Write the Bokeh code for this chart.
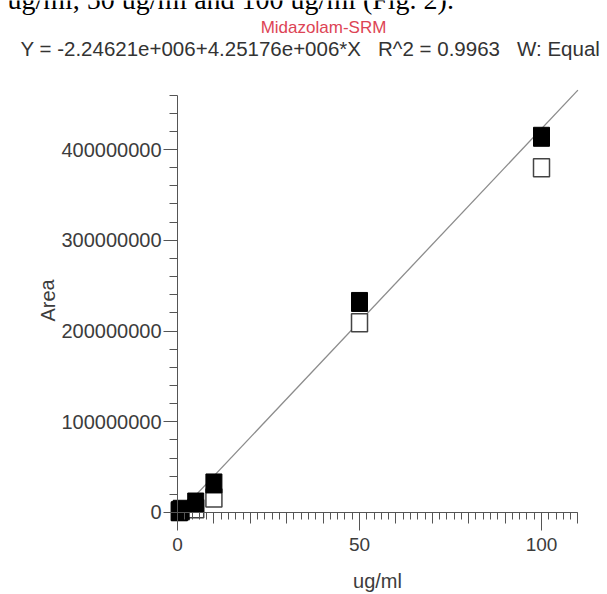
from bokeh.plotting import figure
from bokeh.models import Label, FixedTicker, Range1d, LinearAxis, BasicTickFormatter
from bokeh.embed import file_html
from bokeh.resources import INLINE

# ---- data ----
conc = [0.5, 1, 5, 10, 50, 100]                       # ug/ml
area_a = [1.5e6, 3.0e6, 11e6, 32e6, 232e6, 414e6]       # filled squares
area_b = [1.0e6, 2.0e6, 4e6, 16e6, 209e6, 380e6]        # open squares
intercept = -2.24621e6
slope = 4.25176e6
fit_x = [0, 110]
fit_y = [intercept + slope * v for v in fit_x]

y_major = [0, 100e6, 200e6, 300e6, 400e6]
y_minor = [i * 20e6 for i in range(0, 24)]
x_major = [0, 50, 100]
x_minor = [i * 2 for i in range(0, 56)]
x_medium = [i * 10 for i in range(0, 12)]

SANS = "Liberation Sans"
W, H = 607, 594
GAP = " \u00a0 "   # keeps the wide gaps of the equation line

p = figure(width=W, height=H, output_backend="svg", toolbar_location=None,
           x_range=Range1d(-48.63, 118.13), y_range=Range1d(-90.36e6, 564.19e6),
           x_axis_location=None, y_axis_location=None, min_border=0)
p.outline_line_color = None
p.grid.visible = False
p.background_fill_color = "white"
p.border_fill_color = "white"

axis_col = "#555555"
lab_col = "#3c3c3c"

xa = LinearAxis(fixed_location=0, bounds=(0, 110),
                ticker=FixedTicker(ticks=x_major, minor_ticks=x_minor),
                major_tick_out=18, major_tick_in=0, minor_tick_out=7, minor_tick_in=0,
                axis_line_color=axis_col, major_tick_line_color=axis_col,
                minor_tick_line_color=axis_col,
                major_label_text_font=SANS, major_label_text_font_size="19px",
                major_label_text_color=lab_col, major_label_standoff=8)
p.add_layout(xa, "below")

xmed = LinearAxis(fixed_location=0, bounds=(0, 110),
                  ticker=FixedTicker(ticks=[], minor_ticks=x_medium),
                  minor_tick_out=11, minor_tick_in=0, axis_line_color=None,
                  minor_tick_line_color=axis_col, major_tick_line_color=None)
p.add_layout(xmed, "below")

ya = LinearAxis(fixed_location=0, bounds=(0, 460e6),
                ticker=FixedTicker(ticks=y_major, minor_ticks=y_minor),
                formatter=BasicTickFormatter(use_scientific=False),
                major_tick_out=14, major_tick_in=0, minor_tick_out=8, minor_tick_in=0,
                axis_line_color=axis_col, major_tick_line_color=axis_col,
                minor_tick_line_color=axis_col,
                major_label_text_font=SANS, major_label_text_font_size="20px",
                major_label_text_color=lab_col, major_label_standoff=2)
p.add_layout(ya, "left")

p.line(fit_x, fit_y, line_color="#8c8c8c", line_width=1.3)

p.rect(conc, area_b, width=16, height=18, width_units="screen", height_units="screen",
       fill_color="white", line_color="#444444", line_width=1.5)
p.rect(conc, area_a, width=16, height=19, width_units="screen", height_units="screen",
       fill_color="black", line_color="black")


def lab(text, cx, cy, **kw):
    # cx, cy: pixel positions from the top-left of the canvas (frame fills the canvas)
    p.add_layout(Label(x=cx, y=H - cy, x_units="screen", y_units="screen",
                       text=text, **kw))


lab("ug/ml, 50 ug/ml and 100 ug/ml (Fig. 2).", 7, -1, text_font="Liberation Serif",
    text_font_size="28px", text_color="black", text_baseline="alphabetic", text_align="left")
lab("Midazolam-SRM", 323, 27, text_font=SANS, text_font_size="17px", text_color="#dd4455",
    text_baseline="alphabetic", text_align="center")
lab("Y = -2.24621e+006+4.25176e+006*X" + GAP + "R^2 = 0.9963" + GAP + "W: Equal", 20, 48,
    text_font=SANS, text_font_size="20.5px", text_color="#333333",
    text_baseline="alphabetic", text_align="left")
lab("Area", 47, 300, text_font=SANS, text_font_size="20px", text_color=lab_col,
    text_baseline="middle", text_align="center", angle=1.5708)
lab("ug/ml", 377, 580, text_font=SANS, text_font_size="20px", text_color=lab_col,
    text_baseline="alphabetic", text_align="center")

open("out.html", "w").write(file_html(p, INLINE))
